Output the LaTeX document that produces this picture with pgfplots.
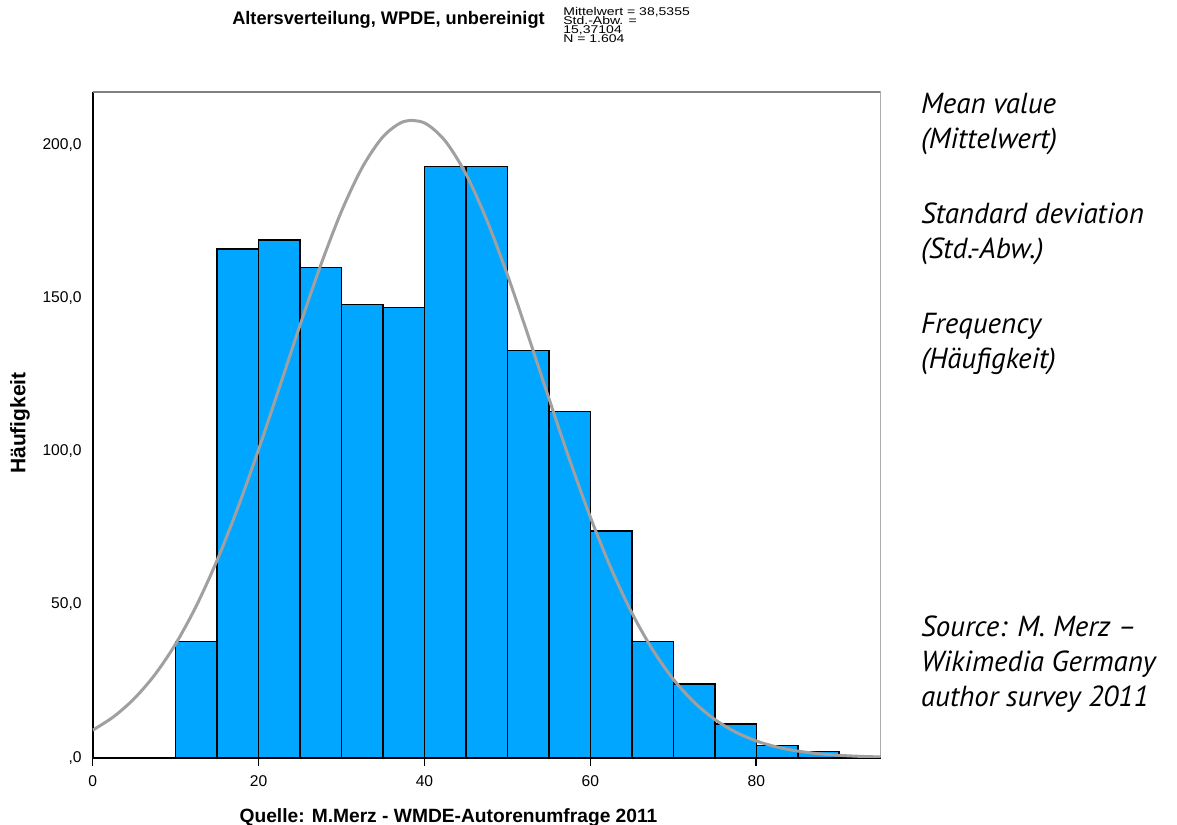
\documentclass[border=0pt]{standalone}
\usepackage{pgfplots}
\pgfplotsset{compat=1.18}
\usepackage{fontspec}
\setmainfont{Liberation Sans}
\newfontfamily\lbold{Liberation Sans Bold}
\newfontfamily\statsfont[FakeStretch=1.25]{Liberation Sans}
\newfontfamily\notefont{PT Sans Italic}
\definecolor{barblue}{RGB}{0,166,255}
\definecolor{curvegray}{RGB}{160,160,160}
\definecolor{framegray}{RGB}{128,128,128}
\begin{document}
\begin{tikzpicture}
\path[use as bounding box] (-46.35bp,-33.65bp) rectangle (542.15bp,378.85bp);
\begin{axis}[
  scale only axis,
  width=394bp, height=333bp,
  xmin=0, xmax=95, ymin=0, ymax=217.4,
  axis x line*=bottom, axis y line*=left,
  axis line style={black, line width=1bp},
  xtick={0,20,40,60,80},
  xticklabels={0,20,40,60,80},
  ytick={0,50,100,150,200},
  yticklabels={{,0},{50,0},{100,0},{150,0},{200,0}},
  tick align=outside,
  major tick length=4bp,
  x tick style={black, line width=0.8bp},
  y tick style={draw=none},
  ticklabel style={font=\fontsize{7.8bp}{9bp}\selectfont, inner sep=0pt},
  yticklabel style={anchor=east, xshift=-1.35bp},
  xticklabel style={anchor=north, yshift=-4.65bp},
  clip=true,
]
\addplot[ybar interval, fill=barblue, draw=black, line width=0.75bp]
  coordinates {(10,38) (15,166) (20,169) (25,160) (30,148) (35,147) (40,193) (45,193)
               (50,133) (55,113) (60,74) (65,38) (70,24) (75,11) (80,4) (85,2) (90,0)};
\addplot[smooth, curvegray, line width=1.5bp] coordinates {
 (0,8.99) (2.5,13.33) (5,19.27) (7.5,27.11) (10,37.15) (12.5,49.59) (15,64.46)
 (17.5,81.60) (20,100.60) (22.5,120.78) (25,141.24) (27.5,160.85) (30,178.40)
 (32.5,192.69) (35,202.70) (37.5,207.66) (40,207.19) (42.5,201.32)
 (45,190.51) (47.5,175.58) (50,157.60) (52.5,137.76) (55,117.28) (57.5,97.23)
 (60,78.51) (62.5,61.74) (65,47.28) (67.5,35.27) (70,25.61) (72.5,18.12)
 (75,12.48) (77.5,8.38) (80,5.47) (82.5,3.48) (85,2.16) (87.5,1.30) (90,0.77)
 (92.5,0.44) (95,0.24)};
\draw[framegray, line width=1bp] (rel axis cs:0,1) -- (rel axis cs:1,1) -- (rel axis cs:1,0);
\end{axis}
% title
\node[anchor=base, inner sep=0pt, font=\lbold\fontsize{9.1bp}{10bp}\selectfont] at (147.9bp,366.35bp) {Altersverteilung, WPDE, unbereinigt};
% stats
\node[anchor=base west, inner sep=0pt, font=\statsfont\fontsize{5.6bp}{4.45bp}\selectfont] at (235.15bp,370.85bp)
  {\vtop{\baselineskip=4.45bp\lineskiplimit=-100pt\lineskip=0pt
   \hbox{Mittelwert = 38,5355}\hbox{Std.-Abw. =}\hbox{15,37104}\hbox{N = 1.604}}};
% axis labels
\node[anchor=base, inner sep=0pt, font=\lbold\fontsize{9.6bp}{11bp}\selectfont] at (177.9bp,-32.15bp) {Quelle: M.Merz - WMDE-Autorenumfrage 2011};
\node[rotate=90, anchor=center, inner sep=0pt, font=\lbold\fontsize{10.5bp}{12bp}\selectfont] at (-36.35bp,167.35bp) {Häufigkeit};
% notes
\begin{scope}[every node/.style={anchor=base west, inner sep=0pt, font=\notefont\fontsize{14.5bp}{17bp}\selectfont}]
\node at (414bp,322.2bp) {Mean value};
\node at (414bp,304.7bp) {(Mittelwert)};
\node at (414bp,267.2bp) {Standard deviation};
\node at (414bp,249.7bp) {(Std.-Abw.)};
\node at (414bp,212.2bp) {Frequency};
\node at (414bp,194.7bp) {(Häufigkeit)};
\node at (414bp,60.5bp) {Source: M. Merz –};
\node at (414bp,43bp) {Wikimedia Germany};
\node at (414bp,25.5bp) {author survey 2011};
\end{scope}
\end{tikzpicture}
\end{document}
